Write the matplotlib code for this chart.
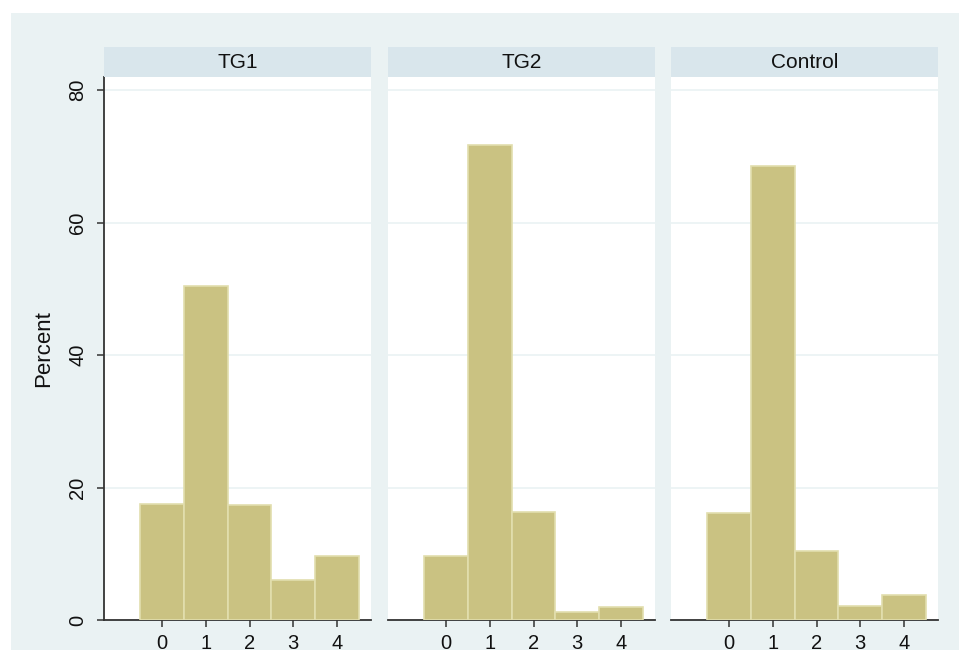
import numpy as np
import matplotlib.pyplot as plt
from matplotlib.patches import Rectangle

plt.rcParams["font.family"] = ["Liberation Sans", "DejaVu Sans"]

groups = ["TG1", "TG2", "Control"]
categories = [0, 1, 2, 3, 4]
percent_tg1 = [17.5, 50.4, 17.4, 6.0, 9.7]
percent_tg2 = [9.7, 71.8, 16.3, 1.2, 2.0]
percent_control = [16.1, 68.5, 10.4, 2.1, 3.8]
series = [percent_tg1, percent_tg2, percent_control]
yticks = [0, 20, 40, 60, 80]

BG = "#eaf2f3"
STRIP = "#d9e6ec"
BAR = "#cac282"
BAR_EDGE = "#e2deae"
DARK = "#333333"

W, H = 959, 650
fig = plt.figure(figsize=(W / 100, H / 100), dpi=100)
fig.patch.set_facecolor("white")
# light outer frame like the Stata graph region
fig.patches.append(Rectangle((11 / W, 0), 1 - 11 / W, 1 - 13 / H,
                             transform=fig.transFigure, facecolor=BG,
                             edgecolor="none", zorder=-10))

lefts = [104, 388, 671]
pw = 267
bottom_px, top_px, strip_top = 620, 77, 47

for i, (name, vals) in enumerate(zip(groups, series)):
    x0 = lefts[i] / W
    ax = fig.add_axes([x0, 1 - bottom_px / H, pw / W, (bottom_px - top_px) / H])
    ax.set_facecolor("white")
    ax.bar(categories, vals, width=1.0, color=BAR, edgecolor=BAR_EDGE,
           linewidth=1.2, zorder=3)
    ax.set_xlim(-1.33, 4.78)
    ax.set_ylim(0, 82)
    ax.set_yticks(yticks)
    ax.set_xticks(categories)
    ax.grid(axis="y", color=BG, linewidth=1.2, zorder=0)
    ax.set_axisbelow(True)
    for s in ["top", "right"]:
        ax.spines[s].set_visible(False)
    ax.spines["bottom"].set_color(DARK)
    ax.spines["bottom"].set_linewidth(1.3)
    ax.tick_params(axis="x", length=5, width=1.1, color=DARK, pad=5,
                   labelsize=14.5, labelcolor="#111111")
    if i == 0:
        ax.spines["left"].set_color(DARK)
        ax.spines["left"].set_linewidth(1.3)
        ax.tick_params(axis="y", length=5, width=1.1, color=DARK, pad=7,
                       labelsize=14.5, labelcolor="#111111")
        for lab in ax.get_yticklabels():
            lab.set_rotation(90)
            lab.set_va("center")
        ax.set_ylabel("Percent", fontsize=16, labelpad=10, color="#111111")
    else:
        ax.spines["left"].set_visible(False)
        ax.tick_params(axis="y", left=False, labelleft=False)

    sax = fig.add_axes([x0, 1 - top_px / H, pw / W, (top_px - strip_top) / H])
    sax.set_facecolor(STRIP)
    sax.set_xticks([])
    sax.set_yticks([])
    for s in sax.spines.values():
        s.set_visible(False)
    sax.text(0.5, 0.5, name, ha="center", va="center", fontsize=15,
             color="#111111", transform=sax.transAxes)

fig.savefig("out.png", dpi=100, facecolor="white")
